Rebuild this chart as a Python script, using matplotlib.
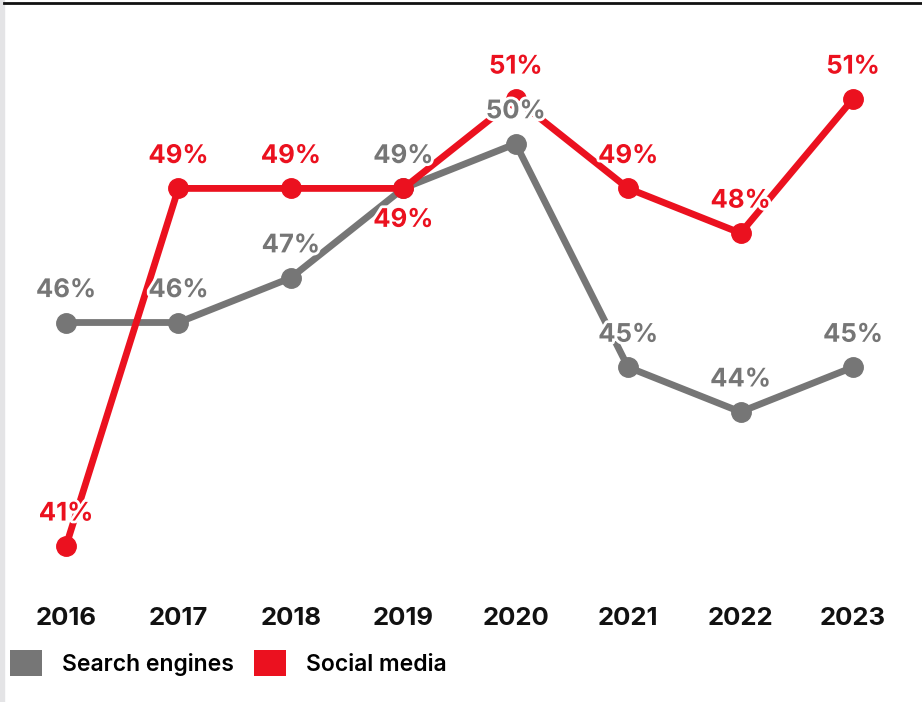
import matplotlib
matplotlib.use("Agg")
import matplotlib.pyplot as plt
import matplotlib.patheffects as pe
from matplotlib.patches import Patch, Rectangle
from matplotlib.lines import Line2D

years = [2016, 2017, 2018, 2019, 2020, 2021, 2022, 2023]
search_engines = [46, 46, 47, 49, 50, 45, 44, 45]
social_media = [41, 49, 49, 49, 51, 49, 48, 51]
# label placement: +1 above the point, -1 below
search_label_side = [1, 1, 1, 1, 1, 1, 1, 1]
social_label_side = [1, 1, 1, -1, 1, 1, 1, 1]

GRAY = "#767676"
RED = "#EB111F"

plt.rcParams["font.family"] = ["Inter", "DejaVu Sans"]

fig = plt.figure(figsize=(9.22, 7.02), dpi=100)
ax = fig.add_axes([0, 112 / 702, 1, 590 / 702])

ax.set_xlim(2015.413, 2023.614)
ax.set_ylim(40.016, 53.215)

ax.plot(years, search_engines, color=GRAY, lw=4.9, marker="o", ms=14,
        solid_capstyle="round", zorder=2)
ax.plot(years, social_media, color=RED, lw=4.9, marker="o", ms=14,
        solid_capstyle="round", zorder=3)

halo = [pe.withStroke(linewidth=4, foreground="white")]
for series, sides, col in ((search_engines, search_label_side, GRAY),
                           (social_media, social_label_side, RED)):
    for x, v, s in zip(years, series, sides):
        ax.annotate(f"{v}%", (x, v), xytext=(0, 23 * s), textcoords="offset points",
                    ha="center", va="center", fontsize=18.5, fontweight="bold",
                    color=col, path_effects=halo, zorder=5)

ax.set_xticks(years)
ax.set_xticklabels([str(y) for y in years], fontsize=18.5, fontweight="bold", color="#111111")
ax.tick_params(axis="x", length=0, pad=12)
ax.set_yticks([])
for sp in ax.spines.values():
    sp.set_visible(False)
ax.patch.set_alpha(0)

# frame decorations: left gray strip and top rule
fig.patches.append(Rectangle((0, 0), 3.5 / 922, 1, transform=fig.transFigure,
                             color="#E4E4E6", zorder=0))
fig.add_artist(Line2D([4 / 922, 1], [1 - 3 / 702, 1 - 3 / 702], transform=fig.transFigure,
                      color="#111111", lw=2))

handles = [Patch(facecolor=GRAY, edgecolor="none", label="Search engines"),
           Patch(facecolor=RED, edgecolor="none", label="Social media")]
fig.legend(handles=handles, loc="center left", bbox_to_anchor=(10 / 922, 1 - 663 / 702),
           ncol=2, frameon=False, handlelength=1.4, handleheight=1.4,
           handletextpad=0.85, columnspacing=0.9, borderpad=0, borderaxespad=0,
           prop={"size": 16.5, "weight": "semibold"})

fig.savefig("out.png", dpi=100)
